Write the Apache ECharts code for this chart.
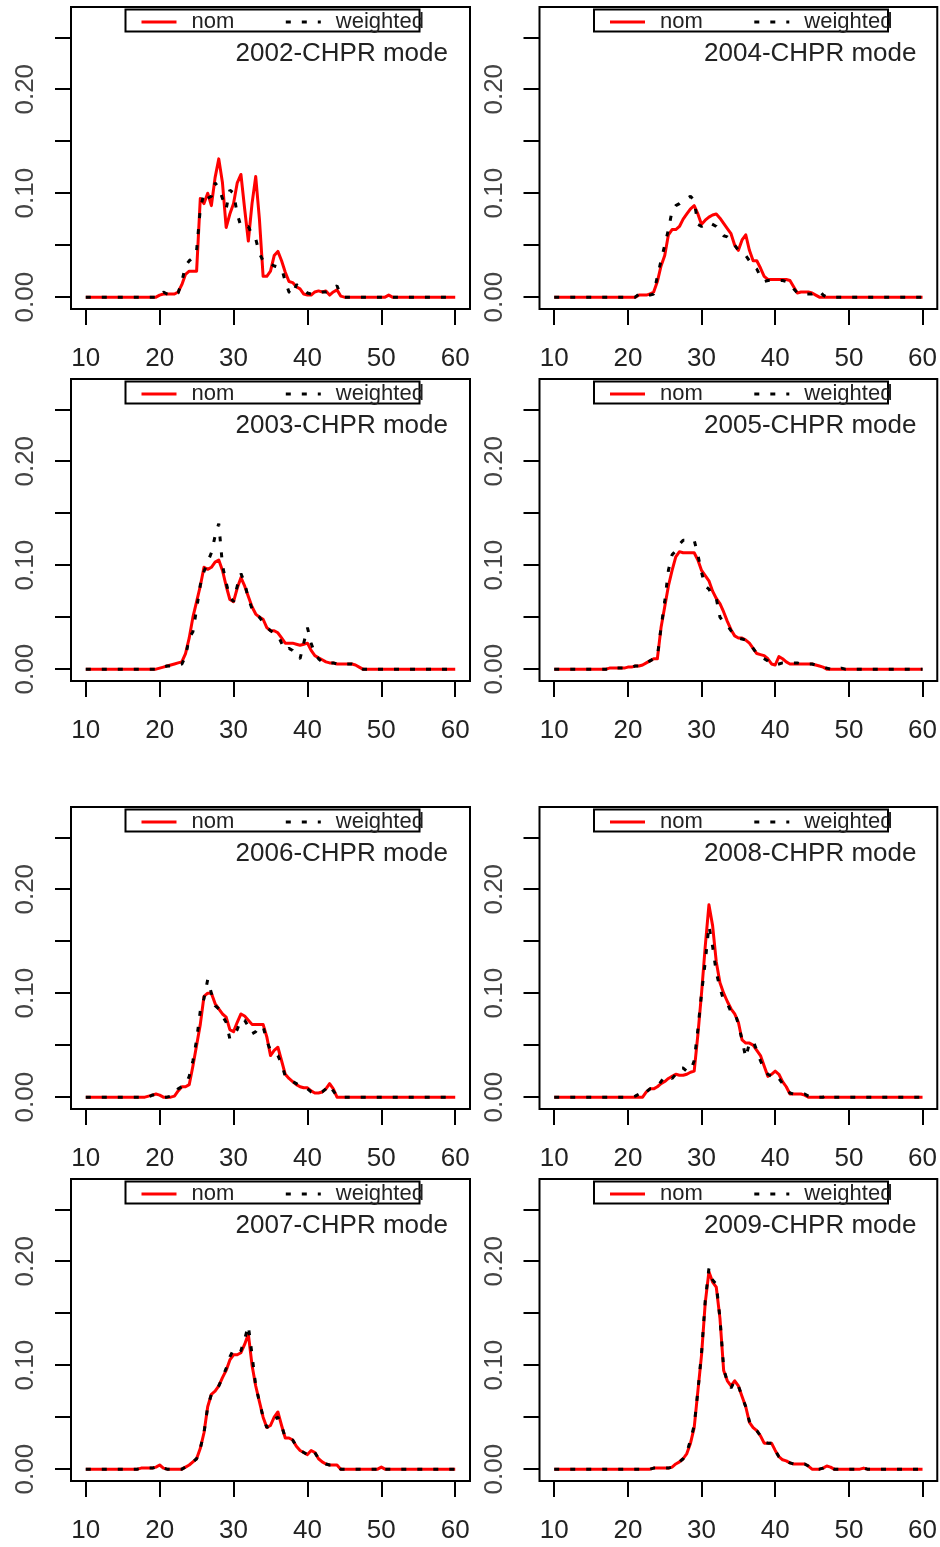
<!DOCTYPE html>
<html><head><meta charset="utf-8">
<script src="https://cdn.jsdelivr.net/npm/echarts@6/dist/echarts.min.js"></script>
<style>html,body{margin:0;padding:0;background:#fff}#c{width:940px;height:1547px}</style>
</head><body><div id="c"></div><script>
// x positions (length classes)
const lengths = [
10,10.5,11,11.5,12,12.5,13,13.5,14,14.5,15,15.5,16,16.5,17,17.5,18,18.5,19,19.5,
20,20.5,21,21.5,22,22.5,23,23.5,24,24.5,25,25.5,26,26.5,27,27.5,28,28.5,29,29.5,
30,30.5,31,31.5,32,32.5,33,33.5,34,34.5,35,35.5,36,36.5,37,37.5,38,38.5,39,39.5,
40,40.5,41,41.5,42,42.5,43,43.5,44,44.5,45,45.5,46,46.5,47,47.5,48,48.5,49,49.5,
50,50.5,51,51.5,52,52.5,53,53.5,54,54.5,55,55.5,56,56.5,57,57.5,58,58.5,59,59.5,
60];
const xTicks = [10,20,30,40,50,60];
const yTicks = [0,0.05,0.10,0.15,0.20,0.25];
const yLabels = [0,0.10,0.20];
const seriesNames = ['nom','weighted'];

const nom2002 = [
0,0,0,0,0,0,0,0,0,0,0,0,0,0,0,0,0,0,0,0,
0.002,0.003,0.003,0.003,0.003,0.005,0.012,0.022,0.025,0.025,0.025,0.095,0.090,0.100,0.088,0.115,0.133,0.110,0.067,0.080,
0.090,0.110,0.118,0.085,0.054,0.090,0.116,0.075,0.020,0.020,0.025,0.040,0.044,0.035,0.024,0.015,0.014,0.010,0.008,0.003,
0.002,0.002,0.005,0.006,0.005,0.006,0.002,0.005,0.007,0.001,0,0,0,0,0,0,0,0,0,0,
0,0,0.002,0,0,0,0,0,0,0,0,0,0,0,0,0,0,0,0,0,
0];
const wtd2002 = [
0,0,0,0,0,0,0,0,0,0,0,0,0,0,0,0,0,0,0,0,
0,0.005,0.003,0.002,0.002,0.004,0.015,0.030,0.035,0.038,0.045,0.085,0.100,0.095,0.097,0.110,0.105,0.095,0.085,0.103,
0.100,0.080,0.068,0.067,0.068,0.060,0.056,0.042,0.035,0.032,0.032,0.030,0.029,0.028,0.015,0.005,0.002,0.012,0.010,0.007,
0.004,0.003,0.003,0.004,0.005,0.005,0.006,0.008,0.011,0.002,0,0,0,0,0,0,0,0,0,0,
0,0,0,0,0,0,0,0,0,0,0,0,0,0,0,0,0,0,0,0,
0];
const nom2003 = [
0,0,0,0,0,0,0,0,0,0,0,0,0,0,0,0,0,0,0,0,
0.001,0.002,0.003,0.004,0.005,0.006,0.007,0.015,0.030,0.050,0.065,0.080,0.098,0.096,0.098,0.103,0.105,0.095,0.080,0.067,
0.065,0.078,0.088,0.080,0.070,0.060,0.053,0.050,0.048,0.040,0.037,0.037,0.035,0.030,0.025,0.025,0.025,0.024,0.023,0.024,
0.025,0.018,0.013,0.011,0.009,0.007,0.006,0.006,0.005,0.005,0.005,0.005,0.005,0.004,0.002,0,0,0,0,0,
0,0,0,0,0,0,0,0,0,0,0,0,0,0,0,0,0,0,0,0,
0];
const wtd2003 = [
0,0,0,0,0,0,0,0,0,0,0,0,0,0,0,0,0,0,0,0,
0,0.002,0.003,0.003,0.004,0.004,0.005,0.012,0.030,0.036,0.058,0.081,0.094,0.103,0.112,0.128,0.140,0.100,0.083,0.069,
0.065,0.080,0.092,0.083,0.068,0.058,0.052,0.050,0.045,0.040,0.037,0.035,0.033,0.025,0.018,0.020,0.018,0.012,0.010,0.025,
0.040,0.025,0.015,0.010,0.007,0.007,0.006,0.006,0.005,0.005,0.005,0.005,0.005,0.004,0.002,0,0,0,0,0,
0,0,0,0,0,0,0,0,0,0,0,0,0,0,0,0,0,0,0,0,
0];
const nom2004 = [
0,0,0,0,0,0,0,0,0,0,0,0,0,0,0,0,0,0,0,0,
0,0,0,0.002,0.002,0.002,0.003,0.005,0.015,0.030,0.040,0.060,0.065,0.065,0.068,0.075,0.080,0.085,0.088,0.080,
0.070,0.074,0.077,0.079,0.080,0.076,0.071,0.066,0.061,0.050,0.045,0.055,0.060,0.045,0.035,0.035,0.028,0.020,0.017,0.017,
0.017,0.017,0.017,0.017,0.016,0.010,0.004,0.005,0.005,0.005,0.004,0.002,0,0,0,0,0,0,0,0,
0,0,0,0,0,0,0,0,0,0,0,0,0,0,0,0,0,0,0,0,
0];
const wtd2004 = [
0,0,0,0,0,0,0,0,0,0,0,0,0,0,0,0,0,0,0,0,
0,0,0,0.003,0.002,0.002,0.002,0.003,0.020,0.035,0.050,0.065,0.083,0.088,0.090,0.093,0.095,0.097,0.093,0.070,
0.068,0.070,0.072,0.070,0.068,0.063,0.059,0.058,0.055,0.050,0.045,0.042,0.040,0.035,0.030,0.027,0.020,0.015,0.016,0.016,
0.016,0.016,0.016,0.015,0.013,0.008,0.004,0.003,0.003,0.003,0.003,0.005,0.006,0.002,0,0,0,0,0,0,
0,0,0,0,0,0,0,0,0,0,0,0,0,0,0,0,0,0,0,0,
0];
const nom2005 = [
0,0,0,0,0,0,0,0,0,0,0,0,0,0,0,0.001,0.001,0.001,0.001,0.001,
0.002,0.002,0.003,0.003,0.004,0.006,0.008,0.010,0.010,0.040,0.060,0.080,0.095,0.108,0.113,0.112,0.112,0.112,0.112,0.105,
0.095,0.090,0.085,0.075,0.068,0.063,0.055,0.046,0.038,0.032,0.030,0.030,0.028,0.025,0.020,0.015,0.014,0.013,0.010,0.005,
0.004,0.012,0.010,0.007,0.005,0.005,0.005,0.005,0.005,0.005,0.005,0.004,0.003,0.002,0,0,0,0,0,0,
0,0,0,0,0,0,0,0,0,0,0,0,0,0,0,0,0,0,0,0,
0];
const wtd2005 = [
0,0,0,0,0,0,0,0,0,0,0,0,0,0,0,0,0.002,0.001,0.001,0.001,
0.002,0.002,0.003,0.003,0.004,0.006,0.008,0.010,0.012,0.040,0.065,0.095,0.110,0.114,0.120,0.124,0.124,0.124,0.124,0.110,
0.093,0.080,0.077,0.070,0.068,0.050,0.045,0.042,0.037,0.033,0.030,0.029,0.028,0.025,0.020,0.015,0.012,0.010,0.008,0.005,
0.005,0.005,0.006,0.006,0.006,0.006,0.006,0.005,0.005,0.005,0.005,0.004,0.003,0.002,0.001,0,0,0,0.001,0,
0,0,0,0,0,0,0,0,0,0,0,0,0,0,0,0,0,0,0,0,
0];
const nom2006 = [
0,0,0,0,0,0,0,0,0,0,0,0,0,0,0,0,0,0.001,0.002,0.003,
0.002,0,0,0,0.001,0.006,0.010,0.010,0.012,0.030,0.050,0.070,0.097,0.100,0.100,0.090,0.085,0.080,0.077,0.065,
0.063,0.072,0.080,0.078,0.074,0.070,0.070,0.070,0.070,0.058,0.040,0.045,0.048,0.035,0.022,0.018,0.015,0.012,0.010,0.009,
0.009,0.006,0.004,0.004,0.005,0.008,0.013,0.008,0,0,0,0,0,0,0,0,0,0,0,0,
0,0,0,0,0,0,0,0,0,0,0,0,0,0,0,0,0,0,0,0,
0];
const wtd2006 = [
0,0,0,0,0,0,0,0,0,0,0,0,0,0,0,0,0,0,0.002,0.002,
0.001,0,0,0.001,0.002,0.008,0.010,0.012,0.020,0.035,0.055,0.083,0.095,0.113,0.100,0.088,0.085,0.078,0.072,0.056,
0.060,0.065,0.075,0.074,0.068,0.061,0.063,0.068,0.068,0.054,0.045,0.042,0.040,0.032,0.020,0.017,0.015,0.013,0.011,0.010,
0.008,0.005,0.004,0.004,0.005,0.008,0.012,0.006,0.001,0,0,0,0,0,0,0,0,0,0,0,
0,0,0,0,0,0,0,0,0,0,0,0,0,0,0,0,0,0,0,0,
0];
const nom2007 = [
0,0,0,0,0,0,0,0,0,0,0,0,0,0,0,0.001,0.001,0.001,0.001,0.002,
0.004,0.001,0,0,0,0,0,0.002,0.004,0.007,0.010,0.020,0.035,0.060,0.072,0.075,0.080,0.088,0.095,0.105,
0.110,0.110,0.112,0.120,0.130,0.100,0.080,0.065,0.050,0.040,0.042,0.050,0.055,0.042,0.030,0.030,0.028,0.022,0.018,0.016,
0.014,0.018,0.016,0.010,0.007,0.005,0.004,0.004,0.004,0,0,0,0,0,0,0,0,0,0,0,
0.002,0,0,0,0,0,0,0,0,0,0,0,0,0,0,0,0,0,0,0,
0];
const wtd2007 = [
0,0,0,0,0,0,0,0,0,0,0,0,0,0,0,0.001,0.001,0.001,0.001,0.002,
0.003,0.001,0,0,0,0,0,0.002,0.004,0.007,0.010,0.020,0.035,0.060,0.072,0.075,0.080,0.088,0.097,0.108,
0.115,0.112,0.114,0.125,0.138,0.110,0.080,0.065,0.050,0.040,0.042,0.048,0.050,0.042,0.030,0.030,0.028,0.022,0.018,0.016,
0.014,0.018,0.016,0.010,0.007,0.005,0.004,0.004,0.004,0,0,0,0,0,0,0,0,0,0,0,
0.003,0,0,0,0,0,0,0,0,0,0,0,0,0,0,0,0,0,0,0,
0];
const nom2008 = [
0,0,0,0,0,0,0,0,0,0,0,0,0,0,0,0,0,0,0,0,
0,0,0,0,0,0.005,0.008,0.008,0.010,0.013,0.015,0.018,0.020,0.022,0.021,0.021,0.022,0.024,0.025,0.060,
0.100,0.145,0.185,0.165,0.130,0.110,0.100,0.092,0.085,0.080,0.072,0.055,0.052,0.052,0.050,0.045,0.040,0.030,0.020,0.022,
0.025,0.022,0.015,0.010,0.003,0.003,0.003,0.003,0.002,0,0,0,0,0,0,0,0,0,0,0,
0,0,0,0,0,0,0,0,0,0,0,0,0,0,0,0,0,0,0,0,
0];
const wtd2008 = [
0,0,0,0,0,0,0,0,0,0,0,0,0,0,0,0,0,0,0,0,
0,0,0.001,0.003,0.001,0.005,0.008,0.008,0.010,0.015,0.020,0.020,0.018,0.022,0.028,0.028,0.025,0.025,0.035,0.065,
0.100,0.130,0.165,0.145,0.120,0.105,0.093,0.090,0.082,0.082,0.070,0.055,0.038,0.052,0.054,0.045,0.035,0.027,0.022,0.020,
0.022,0.018,0.013,0.008,0.004,0.003,0.003,0.003,0.003,0.001,0,0,0,0,0.002,0,0,0,0,0,
0,0,0,0,0,0,0,0,0,0,0,0,0,0,0,0,0,0,0,0,
0];
const nom2009 = [
0,0,0,0,0,0,0,0,0,0,0,0,0,0,0,0,0,0,0,0,
0,0,0,0,0,0,0,0.001,0.001,0.001,0.001,0.001,0.002,0.005,0.007,0.010,0.015,0.025,0.040,0.075,
0.110,0.160,0.190,0.180,0.175,0.145,0.095,0.085,0.080,0.085,0.080,0.070,0.060,0.045,0.040,0.037,0.032,0.025,0.025,0.025,
0.018,0.012,0.009,0.008,0.006,0.005,0.005,0.005,0.005,0.003,0,0,0,0.001,0.003,0.002,0,0,0,0,
0,0,0,0,0.001,0,0,0,0,0,0,0,0,0,0,0,0,0,0,0,
0];
const wtd2009 = [
0,0,0,0,0,0,0,0,0,0,0,0,0,0,0,0,0,0,0,0,
0,0,0,0,0,0,0,0.001,0.001,0.001,0.001,0.001,0.002,0.005,0.007,0.010,0.016,0.028,0.042,0.075,
0.112,0.162,0.193,0.182,0.178,0.145,0.097,0.084,0.078,0.085,0.080,0.070,0.060,0.046,0.040,0.037,0.032,0.026,0.025,0.025,
0.018,0.012,0.009,0.008,0.006,0.005,0.005,0.005,0.005,0.003,0,0,0,0.001,0.003,0.002,0,0,0,0,
0,0,0,0,0.001,0,0,0,0,0,0,0,0,0,0,0,0,0,0,0,
0];

// panel order: row by row, left then right
const panels = [
  ['2002', nom2002, wtd2002], ['2004', nom2004, wtd2004],
  ['2003', nom2003, wtd2003], ['2005', nom2005, wtd2005],
  ['2006', nom2006, wtd2006], ['2008', nom2008, wtd2008],
  ['2007', nom2007, wtd2007], ['2009', nom2009, wtd2009]
];

const FONT = 'Liberation Sans, Arial, Helvetica, sans-serif';
const colLeft = [71, 539.5];
const rowTop = [7, 379, 807, 1179];
const BOX_W = 399, BOX_H = 302;

const grid = [], xAxis = [], yAxis = [], series = [], legend = [], title = [], graphic = [];
panels.forEach((p, i) => {
  const c = i % 2, r = Math.floor(i / 2);
  const L = colLeft[c], T = rowTop[r];
  grid.push({left: L, top: T, width: BOX_W, height: BOX_H, show: true,
    borderColor: '#000', borderWidth: 2, backgroundColor: 'transparent', containLabel: false});
  xAxis.push({gridIndex: i, type: 'value', min: 8, max: 62,
    axisLine: {show: false, onZero: false}, splitLine: {show: false},
    axisTick: {show: true, length: 16, customValues: xTicks, lineStyle: {color: '#000', width: 2}},
    axisLabel: {customValues: xTicks, margin: 37, fontSize: 26, lineHeight: 26, color: '#222', fontFamily: FONT}});
  yAxis.push({gridIndex: i, type: 'value', min: -0.0114, max: 0.2791,
    axisLine: {show: false, onZero: false}, splitLine: {show: false},
    axisTick: {show: true, length: 16, customValues: yTicks, lineStyle: {color: '#000', width: 2}},
    axisLabel: {customValues: yLabels, rotate: 90, margin: 32, fontSize: 26, lineHeight: 26, color: '#444',
      fontFamily: FONT, formatter: v => Number(v).toFixed(2)}});
  series.push({name: seriesNames[0], type: 'line', xAxisIndex: i, yAxisIndex: i,
    data: lengths.map((x, k) => [x, p[1][k]]), symbol: 'none', showSymbol: false, silent: true,
    lineStyle: {color: '#ff0000', width: 3, join: 'round'}, itemStyle: {color: '#ff0000'}, z: 2});
  series.push({name: seriesNames[1], type: 'line', xAxisIndex: i, yAxisIndex: i,
    data: lengths.map((x, k) => [x, p[2][k]]), symbol: 'none', showSymbol: false, silent: true,
    lineStyle: {color: '#000', width: 3, type: [5, 11]}, itemStyle: {color: '#000'}, z: 3});
  legend.push({left: L + 69, top: T + 4, orient: 'horizontal', itemWidth: 35, itemHeight: 14, itemGap: 50,
    padding: 0, selectedMode: false, data: seriesNames,
    itemStyle: {opacity: 0}, lineStyle: {width: 3},
    textStyle: {fontSize: 22, color: '#222', fontFamily: FONT, padding: [0, 0, 0, 10]}});
  title.push({text: p[0] + '-CHPR mode', right: 940 - (L + BOX_W) + 22, top: T + 34, padding: 0,
    textStyle: {fontSize: 26, lineHeight: 26, fontWeight: 'normal', color: '#222', fontFamily: FONT}});
  graphic.push({type: 'rect', left: L + 52, top: T, silent: true,
    shape: {width: 294, height: 22}, style: {fill: 'none', stroke: '#000', lineWidth: 2}, z: 1});
});

const chart = echarts.init(document.getElementById('c'), null, {renderer: 'canvas', width: 940, height: 1547});
chart.setOption({
  animation: false,
  backgroundColor: '#fff',
  textStyle: {fontFamily: FONT},
  grid, xAxis, yAxis, series, legend, title, graphic
});
</script></body></html>
